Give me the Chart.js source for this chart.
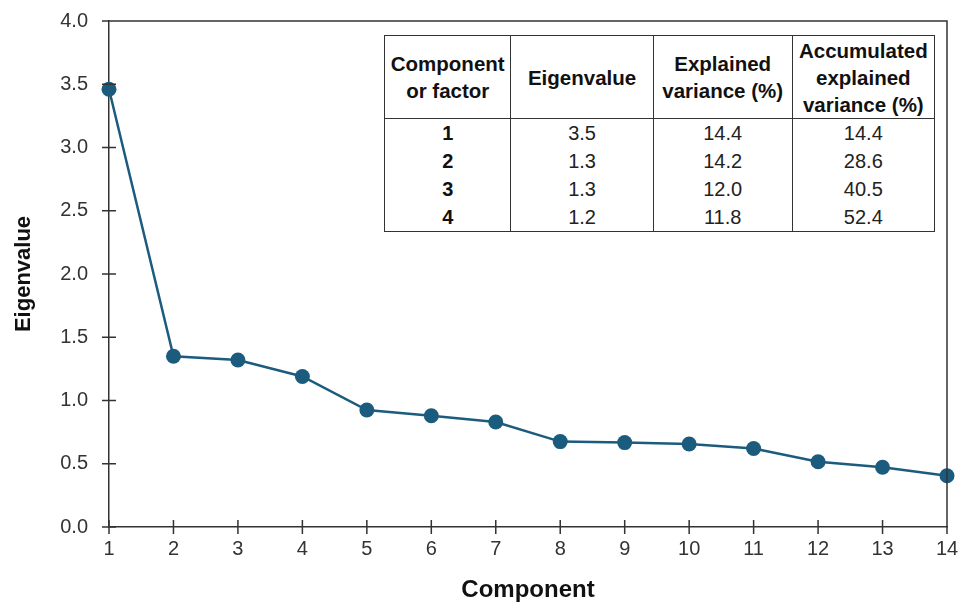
<!DOCTYPE html>
<html>
<head>
<meta charset="utf-8">
<script src="https://cdn.jsdelivr.net/npm/chart.js@4.4.1/dist/chart.umd.min.js"></script>
<style>
  html, body { margin: 0; padding: 0; background: #fff; }
  #wrap { position: relative; width: 960px; height: 606px; }
  #chart { position: absolute; left: 0; top: 0; }
  #tabla {
    position: absolute; left: 384px; top: 35px; width: 551px;
    border-collapse: collapse; background: #fff;
    font-family: "Liberation Sans", Arial, sans-serif; font-size: 20px; color: #222;
  }
  #tabla th, #tabla td { border-left: 1.5px solid #333; border-right: 1.5px solid #333; text-align: center; padding: 0; }
  #tabla th { font-weight: bold; color: #111; line-height: 27px; height: 82px; border-top: 1.5px solid #333; border-bottom: 1.5px solid #333; font-size: 20.5px; }
  #tabla td { line-height: 28px; height: 28px; }
  #tabla tr:last-child td { border-bottom: 1.5px solid #333; }
  #tabla td.num { font-weight: bold; color: #111; }
</style>
</head>
<body>
<div id="wrap">
  <canvas id="chart" width="960" height="606"></canvas>
  <table id="tabla"></table>
</div>
<script>
// datos del gráfico de sedimentación
const components = [1, 2, 3, 4, 5, 6, 7, 8, 9, 10, 11, 12, 13, 14];
const eigenvalues = [3.46, 1.35, 1.32, 1.19, 0.925, 0.88, 0.83, 0.675, 0.667, 0.656, 0.62, 0.516, 0.472, 0.405];

// tabla de la esquina
const tableHeaders = ['Component<br>or factor', 'Eigenvalue', 'Explained<br>variance (%)', 'Accumulated<br>explained<br>variance (%)'];
const tableComponent = ['1', '2', '3', '4'];
const tableEigen = ['3.5', '1.3', '1.3', '1.2'];
const tableExplained = ['14.4', '14.2', '12.0', '11.8'];
const tableAccumulated = ['14.4', '28.6', '40.5', '52.4'];
const colWidths = [126, 143, 140, 142];

const fontFamily = '"Liberation Sans", Arial, sans-serif';
const lineColor = '#1b5c7e';
const axisColor = '#333';

// tabla
const tabla = document.getElementById('tabla');
let html = '<tr>';
tableHeaders.forEach((h, i) => { html += `<th style="width:${colWidths[i]}px">${h}</th>`; });
html += '</tr>';
tableComponent.forEach((c, i) => {
  html += `<tr><td class="num">${c}</td><td>${tableEigen[i]}</td><td>${tableExplained[i]}</td><td>${tableAccumulated[i]}</td></tr>`;
});
tabla.innerHTML = html;

// marco y marcas que cruzan los ejes
const framePlugin = {
  id: 'frame',
  afterDraw(chart) {
    const { ctx, chartArea } = chart;
    const x = chart.scales.x, y = chart.scales.y;
    ctx.save();
    ctx.strokeStyle = axisColor;
    ctx.lineWidth = 1.5;
    ctx.beginPath();
    ctx.moveTo(chartArea.left, chartArea.top);
    ctx.lineTo(chartArea.right, chartArea.top);
    ctx.lineTo(chartArea.right, chartArea.bottom);
    y.ticks.forEach(t => {
      const py = y.getPixelForValue(t.value);
      ctx.moveTo(chartArea.left - 7, py);
      ctx.lineTo(chartArea.left + 7, py);
    });
    x.ticks.forEach(t => {
      const px = x.getPixelForValue(t.value);
      ctx.moveTo(px, chartArea.bottom + 7);
      ctx.lineTo(px, chartArea.bottom - 7);
    });
    ctx.stroke();
    ctx.restore();
  }
};

new Chart(document.getElementById('chart'), {
  type: 'line',
  data: {
    datasets: [{
      data: components.map((c, i) => ({ x: c, y: eigenvalues[i] })),
      borderColor: lineColor,
      backgroundColor: lineColor,
      borderWidth: 2.5,
      pointRadius: 7.5,
      pointHoverRadius: 7.5,
      pointBackgroundColor: lineColor,
      pointBorderWidth: 0,
      tension: 0,
      clip: false
    }]
  },
  options: {
    responsive: false,
    animation: false,
    layout: { padding: { top: 21, right: 13, left: 0, bottom: 0 } },
    plugins: { legend: { display: false }, tooltip: { enabled: false } },
    scales: {
      x: {
        type: 'linear',
        min: 1, max: 14,
        afterFit(scale) { scale.height = 79; },
        border: { display: true, color: axisColor, width: 1.5 },
        grid: { drawOnChartArea: false, drawTicks: true, tickLength: 10, tickColor: 'rgba(0,0,0,0)' },
        ticks: { stepSize: 1, padding: 0, color: '#333', font: { family: fontFamily, size: 20 } },
        title: {
          display: true, text: 'Component', color: '#111',
          font: { family: fontFamily, size: 24, weight: 'bold' },
          padding: { top: 0, bottom: 1 }
        }
      },
      y: {
        min: 0, max: 4,
        afterFit(scale) { scale.width = 109; },
        border: { display: true, color: axisColor, width: 1.5 },
        grid: { drawOnChartArea: false, drawTicks: true, tickLength: 21, tickColor: 'rgba(0,0,0,0)' },
        ticks: {
          stepSize: 0.5, padding: 0, color: '#333',
          font: { family: fontFamily, size: 20 },
          callback: v => v.toFixed(1)
        },
        title: {
          display: true, text: 'Eigenvalue', color: '#111',
          font: { family: fontFamily, size: 22, weight: 'bold' },
          padding: { top: 11, bottom: 0 }
        }
      }
    }
  },
  plugins: [framePlugin]
});
</script>
</body>
</html>
